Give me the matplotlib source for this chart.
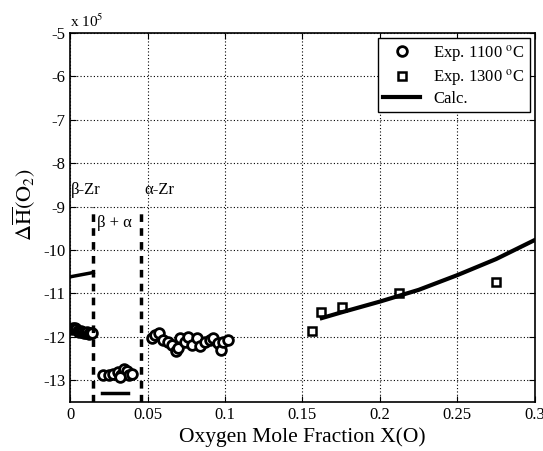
import numpy as np
import matplotlib
matplotlib.use("Agg")
import matplotlib.pyplot as plt

plt.rcParams["font.family"] = ["Liberation Serif", "DejaVu Serif"]
plt.rcParams["mathtext.fontset"] = "stix"
plt.rcParams["axes.unicode_minus"] = False

# Exp. 1100 C, beta-Zr region
beta_x = [0.001, 0.002, 0.003, 0.004, 0.005, 0.006, 0.007, 0.008,
          0.009, 0.010, 0.011, 0.012, 0.013, 0.014]
beta_y = [-11.82, -11.80, -11.79, -11.83, -11.86, -11.88, -11.86, -11.90,
          -11.92, -11.91, -11.90, -11.93, -11.92, -11.91]

# Exp. 1100 C, beta + alpha region
two_x = [0.0215, 0.025, 0.028, 0.031, 0.033, 0.035, 0.037, 0.038, 0.040, 0.032]
two_y = [-12.88, -12.88, -12.87, -12.82, -12.88, -12.75, -12.80, -12.88, -12.87, -12.92]

# Exp. 1100 C, alpha-Zr region
alpha_x = [0.0527, 0.0548, 0.0576, 0.0602, 0.0634, 0.0656, 0.0682, 0.0699,
           0.0710, 0.0742, 0.0763, 0.0785, 0.0817, 0.0839, 0.0871, 0.0903,
           0.0925, 0.0957, 0.0972, 0.0989, 0.1021]
alpha_y = [-12.03, -11.96, -11.92, -12.07, -12.11, -12.18, -12.33, -12.26,
           -12.03, -12.11, -12.00, -12.18, -12.03, -12.22, -12.11, -12.07,
           -12.03, -12.15, -12.30, -12.11, -12.07]

# Exp. 1300 C
hot_x = [0.1559, 0.1617, 0.1757, 0.2125, 0.2746]
hot_y = [-11.87, -11.42, -11.31, -11.00, -10.73]

# Calculated
calc_beta_x = [0.0, 0.015]
calc_beta_y = [-10.62, -10.52]
calc_two_x = [0.0205, 0.0375]
calc_two_y = [-13.29, -13.29]
calc_alpha_x = [0.1625, 0.175, 0.2, 0.225, 0.25, 0.275, 0.3]
calc_alpha_y = [-11.57, -11.44, -11.19, -10.92, -10.58, -10.21, -9.77]

# phase boundaries
boundaries = [0.015, 0.046]

fig = plt.figure(figsize=(5.43, 4.51), dpi=100)
ax = fig.add_axes([0.129, 0.109, 0.856, 0.818])

ax.grid(True, linestyle=(0, (1, 2)), color="black", linewidth=0.8)

mk = dict(linestyle="none", marker="o", markersize=7, markerfacecolor="white",
          markeredgecolor="black", markeredgewidth=2)
ax.plot(beta_x, beta_y, label="Exp. 1100 $^{\\rm o}$C", **mk)
ax.plot(two_x, two_y, **mk)
ax.plot(alpha_x, alpha_y, **mk)
ax.plot(hot_x, hot_y, linestyle="none", marker="s", markersize=6,
        markerfacecolor="white", markeredgecolor="black", markeredgewidth=1.8,
        label="Exp. 1300 $^{\\rm o}$C")

ax.plot(calc_alpha_x, calc_alpha_y, color="black", linewidth=3, label="Calc.")
ax.plot(calc_beta_x, calc_beta_y, color="black", linewidth=2.5)
ax.plot(calc_two_x, calc_two_y, color="black", linewidth=2.5)

for b in boundaries:
    ax.plot([b, b], [-13.5, -9.0], color="black", linewidth=2.5,
            linestyle=(0, (2.2, 1.8)))

ax.text(0.0005, -8.72, "β-Zr", fontsize=12)
ax.text(0.048, -8.72, "α-Zr", fontsize=12)
ax.text(0.0175, -9.48, "β + α", fontsize=12)

ax.set_xlim(0, 0.3)
ax.set_ylim(-13.5, -5)
ax.set_xticks([0, 0.05, 0.1, 0.15, 0.2, 0.25, 0.3])
ax.set_xticklabels(["0", "0.05", "0.1", "0.15", "0.2", "0.25", "0.3"])
ax.set_yticks(np.arange(-13, -4, 1))
ax.tick_params(direction="in", labelsize=12, length=4, top=True, right=True)
for s in ax.spines.values():
    s.set_linewidth(1.2)

ax.set_xlabel("Oxygen Mole Fraction X(O)", fontsize=15.5, labelpad=3)
ax.set_ylabel(r"$\Delta\overline{\mathrm{H}}(\mathrm{O}_2)$", fontsize=16)
ax.yaxis.set_label_coords(-0.07, 0.535)
ax.text(0.0, 1.008, "x 10$^5$", transform=ax.transAxes, fontsize=11,
        va="bottom", ha="left")

leg = ax.legend(loc="upper right", fontsize=12, frameon=True, fancybox=False,
                edgecolor="black", framealpha=1, borderaxespad=0.3,
                handlelength=2.2, borderpad=0.3, labelspacing=0.2)
leg.get_frame().set_linewidth(1.0)

fig.savefig("out.png", dpi=100)
